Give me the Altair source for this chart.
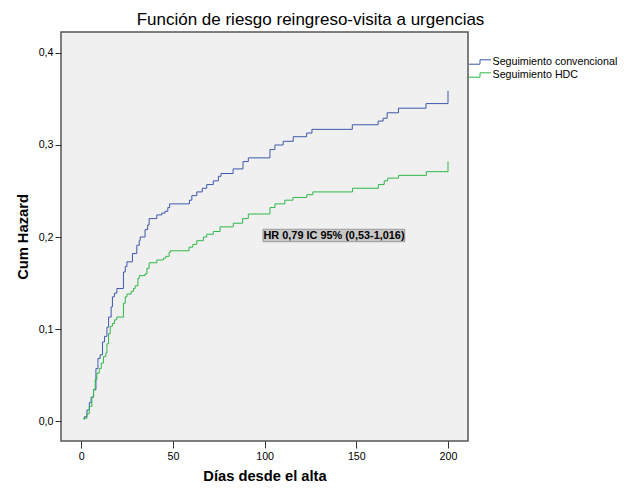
import altair as alt
import pandas as pd

# ---- data ----
series_names = ["Seguimiento convencional", "Seguimiento HDC"]
series_colors = ["#3E58AC", "#2EB848"]

conv_days = [1.2, 1.8, 3.1, 4.4, 5.4, 6.7, 8.0, 9.1, 10.3, 11.6,
             12.7, 14.0, 14.9, 16.3, 17.0, 18.1, 19.4, 23.0, 24.0, 24.9,
             27.9, 30.3, 31.6, 32.1, 34.8, 36.2, 37.0, 41.2, 43.9, 45.7,
             47.2, 48.2, 59.0, 60.3, 63.0, 66.0, 68.4, 72.0, 74.8, 76.2,
             82.8, 88.2, 91.1, 102.9, 105.6, 110.1, 115.6, 122.9, 125.8, 147.8,
             161.9, 164.6, 166.8, 173.0, 188.0, 200.0]
conv_haz = [0.003, 0.0047, 0.012, 0.020, 0.026, 0.034, 0.057, 0.068, 0.072, 0.086,
            0.092, 0.102, 0.113, 0.124, 0.135, 0.139, 0.144, 0.162, 0.168, 0.173,
            0.182, 0.191, 0.196, 0.200, 0.208, 0.213, 0.220, 0.224, 0.226, 0.228,
            0.232, 0.236, 0.240, 0.245, 0.249, 0.253, 0.257, 0.261, 0.266, 0.269,
            0.274, 0.282, 0.286, 0.295, 0.300, 0.304, 0.309, 0.313, 0.317, 0.322,
            0.326, 0.329, 0.335, 0.340, 0.345, 0.359]

hdc_days = [1.2, 1.8, 3.1, 4.4, 5.8, 6.7, 7.6, 8.5, 9.8, 10.9,
            12.1, 13.4, 14.0, 14.9, 15.8, 17.0, 18.1, 19.4, 23.0, 24.0,
            24.9, 27.2, 28.5, 29.4, 30.9, 31.6, 34.8, 35.8, 37.0, 41.2,
            44.8, 46.1, 47.9, 48.5, 58.8, 60.8, 63.0, 66.6, 68.4, 72.0,
            75.7, 82.9, 88.0, 91.1, 102.9, 105.6, 111.0, 115.4, 123.0, 126.3,
            147.9, 162.0, 165.2, 167.1, 173.0, 188.2, 200.0]
hdc_haz = [0.002, 0.003, 0.008, 0.016, 0.026, 0.034, 0.045, 0.052, 0.057, 0.063,
           0.070, 0.074, 0.084, 0.095, 0.103, 0.106, 0.110, 0.113, 0.128, 0.135,
           0.138, 0.141, 0.144, 0.147, 0.155, 0.158, 0.160, 0.166, 0.172, 0.175,
           0.177, 0.179, 0.183, 0.185, 0.189, 0.192, 0.196, 0.200, 0.203, 0.206,
           0.211, 0.215, 0.220, 0.225, 0.232, 0.236, 0.240, 0.243, 0.246, 0.249,
           0.253, 0.257, 0.261, 0.264, 0.267, 0.271, 0.282]

x_ticks = [0, 50, 100, 150, 200]
y_ticks = [0.0, 0.1, 0.2, 0.3, 0.4]

title_text = "Función de riesgo reingreso-visita a urgencias"
x_title = "Días desde el alta"
y_title = "Cum Hazard"
annotation_text = "HR 0,79 IC 95% (0,53-1,016)"

# ---- build table ----
df = pd.concat([
    pd.DataFrame({"serie": series_names[0], "dia": conv_days, "haz": conv_haz}),
    pd.DataFrame({"serie": series_names[1], "dia": hdc_days, "haz": hdc_haz}),
], ignore_index=True)
ann = pd.DataFrame({"label": [annotation_text]})

FONT = "Liberation Sans"
x_scale = alt.Scale(domain=[-11.05, 210.9], nice=False, zero=False)
y_scale = alt.Scale(domain=[-0.0217, 0.4228], nice=False, zero=False)

lines = alt.Chart(df).mark_line(interpolate="step-after", strokeWidth=1).encode(
    x=alt.X("dia:Q", scale=x_scale, title=x_title,
            axis=alt.Axis(values=x_ticks, domain=False, grid=False, tickSize=7,
                          tickColor="#333333", labelFont=FONT, labelFontSize=10.7,
                          labelColor="#000000", labelPadding=3, labelFlush=False,
                          titleFont=FONT, titleFontSize=14.7, titleFontWeight="bold",
                          titleColor="#000000", titlePadding=8)),
    y=alt.Y("haz:Q", scale=y_scale, title=y_title,
            axis=alt.Axis(values=y_ticks, domain=False, grid=False, tickSize=6,
                          tickColor="#333333", labelFont=FONT, labelFontSize=10.7,
                          labelColor="#000000", labelPadding=2, labelFlush=False,
                          labelExpr="replace(format(datum.value, '.1f'), '.', ',')",
                          titleFont=FONT, titleFontSize=14.7, titleFontWeight="bold",
                          titleColor="#000000", titlePadding=8)),
    color=alt.Color("serie:N",
                    scale=alt.Scale(domain=series_names, range=series_colors),
                    legend=alt.Legend(title=None, orient="none", legendX=413, legendY=24,
                                      symbolType="M -2 0.4 L 0 0.4 L 0 -0.4 L 2 -0.4",
                                      symbolSize=121, symbolStrokeWidth=1,
                                      symbolFillColor="transparent",
                                      labelFont=FONT, labelFontSize=10.7,
                                      labelColor="#000000", labelOffset=6.5,
                                      labelLimit=200,
                                      rowPadding=2, padding=0)),
)

box = alt.Chart(ann).mark_rect(fill="#C8C8C8", stroke="#9A9A9A", strokeWidth=1).encode(
    x=alt.datum(99.1), x2=alt.datum(176.4),
    y=alt.datum(0.2084), y2=alt.datum(0.1949),
)
label = alt.Chart(ann).mark_text(align="left", baseline="middle", font=FONT,
                                 fontSize=10.9, fontWeight="bold", color="#000000",
                                 dx=0.5).encode(
    x=alt.datum(99.1), y=alt.datum(0.2016), text="label:N",
)

chart = alt.layer(lines, box, label).properties(
    width=407, height=409,
    title=alt.TitleParams(title_text, font=FONT, fontSize=17, fontWeight="normal",
                          color="#000000", anchor="middle", dx=46, offset=3),
    autosize=alt.AutoSizeParams(type="none"),
    padding={"left": 53, "top": 24, "right": 150, "bottom": 50},
).configure_view(fill="#F0F0F0", stroke="#555555", strokeWidth=1.5)

chart.save("out.html", embed_options={"renderer": "svg", "actions": False})
